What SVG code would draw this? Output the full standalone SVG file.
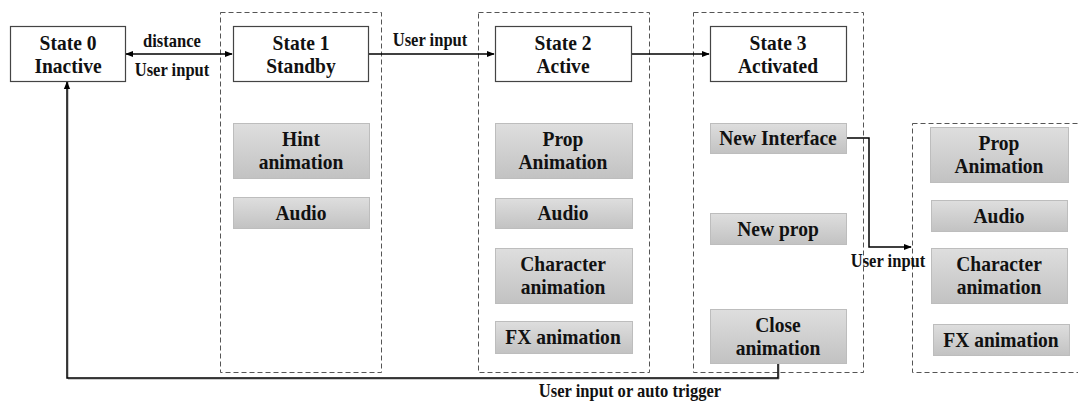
<svg xmlns="http://www.w3.org/2000/svg" width="1078" height="403" viewBox="0 0 1078 403">
  <defs>
    <linearGradient id="grayFill" x1="0" y1="0" x2="0" y2="1">
      <stop offset="0" stop-color="#dedede"/>
      <stop offset="1" stop-color="#c2c2c2"/>
    </linearGradient>
    <marker id="arrow" viewBox="0 0 10 10" refX="9" refY="5" markerWidth="8" markerHeight="8" markerUnits="userSpaceOnUse" orient="auto-start-reverse">
      <path d="M0,1 L10,5 L0,9 z" fill="#000"/>
    </marker>
  </defs>
  <style>
    text { font-family: "Liberation Serif", "Times New Roman", serif; font-weight: bold; fill: #111; text-anchor: middle;
           transform-box: fill-box; transform-origin: center; transform: scaleX(0.93); }
    .big { font-size: 21px; }
    .lbl { font-size: 18px; transform: scaleX(0.92); }
    .state { fill: #fff; stroke: #444; stroke-width: 1.2; }
    .item { fill: url(#grayFill); stroke: #bdbdbd; stroke-width: 1; }
    .group { fill: none; stroke: #555; stroke-width: 1; stroke-dasharray: 5 3; }
    .wire { fill: none; stroke: #000; stroke-width: 1.5; }
  </style>
  <rect width="1078" height="403" fill="#fff"/>

  <!-- dashed state containers -->
  <g id="groups">
    <rect class="group" x="220.5" y="12.5" width="161" height="360"/>
    <rect class="group" x="478.5" y="12.5" width="171" height="360"/>
    <rect class="group" x="693.5" y="12.5" width="170" height="360"/>
    <rect class="group" x="912.5" y="123.5" width="180" height="249"/>
  </g>

  <!-- connectors -->
  <g id="connectors">
    <line class="wire" x1="126" y1="54" x2="232" y2="54" marker-start="url(#arrow)" marker-end="url(#arrow)"/>
    <line class="wire" x1="368" y1="54" x2="494" y2="54" marker-end="url(#arrow)"/>
    <line class="wire" x1="631" y1="54" x2="709" y2="54" marker-end="url(#arrow)"/>
    <polyline class="wire" points="846,138 869,138 869,247 911,247" marker-end="url(#arrow)"/>
    <polyline fill="none" stroke="#999" stroke-width="1" points="779,364 779,379 68,379 68,82"/>
    <polyline class="wire" stroke-width="2" points="778,363 778,378 67,378 67,82" marker-end="url(#arrow)"/>
    <text class="lbl" x="172" y="47">distance</text>
    <text class="lbl" x="172" y="76">User input</text>
    <text class="lbl" x="430" y="46">User input</text>
    <text class="lbl" x="888" y="267">User input</text>
    <text class="lbl" x="630" y="397">User input or auto trigger</text>
  </g>

  <!-- state nodes -->
  <g id="state0">
    <rect class="state" x="10.5" y="26.5" width="115" height="55"/>
    <text class="big" x="68" y="50">State 0</text>
    <text class="big" x="68" y="73">Inactive</text>
  </g>
  <g id="state1">
    <rect class="state" x="233.5" y="26.5" width="135" height="55"/>
    <text class="big" x="301" y="50">State 1</text>
    <text class="big" x="301" y="73">Standby</text>
  </g>
  <g id="state2">
    <rect class="state" x="495.5" y="26.5" width="136" height="55"/>
    <text class="big" x="563" y="50">State 2</text>
    <text class="big" x="563" y="73">Active</text>
  </g>
  <g id="state3">
    <rect class="state" x="710.5" y="26.5" width="136" height="55"/>
    <text class="big" x="778" y="50">State 3</text>
    <text class="big" x="778" y="73">Activated</text>
  </g>

  <!-- standby items -->
  <g id="s1-hint">
    <rect class="item" x="233.5" y="123.5" width="136" height="55"/>
    <text class="big" x="301" y="146">Hint</text>
    <text class="big" x="301" y="169">animation</text>
  </g>
  <g id="s1-audio">
    <rect class="item" x="233.5" y="197.5" width="136" height="31"/>
    <text class="big" x="301" y="220">Audio</text>
  </g>

  <!-- active items -->
  <g id="s2-prop">
    <rect class="item" x="495.5" y="123.5" width="137" height="55"/>
    <text class="big" x="563" y="146">Prop</text>
    <text class="big" x="563" y="169">Animation</text>
  </g>
  <g id="s2-audio">
    <rect class="item" x="495.5" y="198.5" width="137" height="30"/>
    <text class="big" x="563" y="220">Audio</text>
  </g>
  <g id="s2-character">
    <rect class="item" x="495.5" y="248.5" width="137" height="55"/>
    <text class="big" x="563" y="271">Character</text>
    <text class="big" x="563" y="294">animation</text>
  </g>
  <g id="s2-fx">
    <rect class="item" x="495.5" y="321.5" width="137" height="32"/>
    <text class="big" x="563" y="344">FX animation</text>
  </g>

  <!-- activated items -->
  <g id="s3-interface">
    <rect class="item" x="710.5" y="123.5" width="136" height="30"/>
    <text class="big" x="778" y="145">New Interface</text>
  </g>
  <g id="s3-prop">
    <rect class="item" x="710.5" y="213.5" width="136" height="31"/>
    <text class="big" x="778" y="236">New prop</text>
  </g>
  <g id="s3-close">
    <rect class="item" x="710.5" y="309.5" width="136" height="54"/>
    <text class="big" x="778" y="332">Close</text>
    <text class="big" x="778" y="355">animation</text>
  </g>

  <!-- interface items -->
  <g id="ui-prop">
    <rect class="item" x="930.5" y="127.5" width="138" height="55"/>
    <text class="big" x="999" y="150">Prop</text>
    <text class="big" x="999" y="173">Animation</text>
  </g>
  <g id="ui-audio">
    <rect class="item" x="931.5" y="200.5" width="136" height="31"/>
    <text class="big" x="999" y="223">Audio</text>
  </g>
  <g id="ui-character">
    <rect class="item" x="931.5" y="248.5" width="136" height="55"/>
    <text class="big" x="999" y="271">Character</text>
    <text class="big" x="999" y="294">animation</text>
  </g>
  <g id="ui-fx">
    <rect class="item" x="933.5" y="324.5" width="136" height="31"/>
    <text class="big" x="1001" y="347">FX animation</text>
  </g>
</svg>
